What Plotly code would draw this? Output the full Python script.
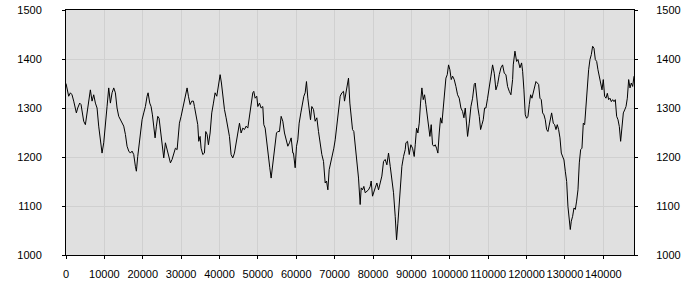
import plotly.graph_objects as go

x_vals = [
    0, 300, 700, 1140, 1570, 2010, 2700, 3050, 3570, 3920, 4180, 4610, 5050, 5480, 5920, 6350, 6790, 7220, 7660, 8090,
    8520, 8960, 9390, 9830, 10260, 10700, 11130, 11570, 12000, 12440, 12870, 13300, 13740, 14170, 14610, 15040, 15480,
    15910, 16350, 16780, 17210, 17650, 18080, 18340, 18690, 19210, 19820, 20260, 20690, 21130, 21390, 21820, 22170,
    22520, 22860, 23210, 23560, 23910, 24250, 24600, 25040, 25470, 25900, 26340, 26770, 27210, 27640, 28080, 28510,
    28950, 29380,
    29550, 29990, 30420, 30860, 31290, 31550, 31900, 32340, 32770, 33200, 33470, 33900, 34330, 34590, 34940, 35200,
    35640, 36070, 36420, 36770, 37110, 37550, 37980, 38420, 38850, 39290, 39720, 40160, 40500, 40850, 41290, 41720,
    42160, 42590, 43020, 43460, 43890, 44330, 44760, 45200, 45630, 46070, 46500, 46930, 47370, 47800, 48240, 48670,
    48930, 49280, 49710, 49980, 50410, 50850, 51280, 51540, 51890, 52320, 52760, 53100, 53450, 53800, 54150, 54490,
    54840, 55190, 55620, 56060, 56490, 56930, 57360, 57800, 58230, 58670, 59100,
    59270, 59710, 60060, 60400, 60750, 61190, 61620, 61970, 62320, 62660, 63010, 63360, 63710, 64050, 64490, 64920,
    65360, 65790, 66230, 66660, 67100, 67530, 67880, 68230, 68570, 69010, 69440, 69790, 70140, 70570, 71010, 71440,
    71880, 72310, 72570, 72920, 73270, 73610, 73960, 74310, 74660, 75000, 75350, 75790, 76220, 76650, 76920, 77260,
    77610, 77960, 78390, 78830, 79260, 79520, 79870, 80220, 80570, 81000, 81430, 81870, 82300, 82740, 83170, 83610,
    84040, 84480, 84910, 85340, 85780, 86130, 86470, 86820, 87170, 87520, 87950, 88390,
    88560, 88990, 89430, 89860, 90300, 90730, 91000, 91340, 91690, 92040, 92380, 92730, 93080, 93430, 93770, 94120,
    94470, 94820, 95160, 95510, 95860, 96210, 96550, 96900, 97250, 97600, 97950, 98290, 98640, 98990, 99340, 99680,
    100030, 100380, 100730, 101160, 101600, 102030, 102460, 102900, 103330, 103680, 104030, 104380, 104640, 105070,
    105510, 105940, 106370, 106640, 106980, 107330, 107680, 108030, 108370, 108720, 109070, 109420, 109850, 110290,
    110720, 111150, 111590, 112020, 112460, 112890, 113330, 113760, 114200, 114630, 115060, 115500, 115930, 116370,
    116540, 116980, 117410, 117760, 118110,
    118280, 118710, 118980, 119320, 119670, 120020, 120370, 120710, 121060, 121410, 121760, 122100, 122450, 122800,
    123150, 123490, 123840, 124190, 124540, 124880, 125230, 125580, 125930, 126270, 126540, 126970, 127320, 127670,
    128010, 128360, 128710, 129060, 129400, 129750, 130100, 130450, 130790, 131140, 131400, 131660, 132010, 132360,
    132710, 133050, 133400, 133750, 134100, 134440, 134790, 135140, 135490, 135830, 136180, 136530, 136880, 137220,
    137570, 137920, 138270, 138610, 138960, 139310, 139660, 140000, 140350, 140700, 141050, 141390, 141740, 142090,
    142440, 142790, 143130, 143480, 143830, 144180, 144520, 144870, 145220, 145570, 145920, 146260, 146610, 146960,
    147300, 147650, 148000,
]

y_vals = [
    1350, 1335, 1324, 1331, 1327, 1314, 1290, 1300, 1310, 1307, 1290, 1273, 1266, 1293, 1310, 1337, 1314, 1327, 1310, 1300,
    1263, 1229, 1208, 1229, 1276, 1303, 1341, 1310, 1331, 1341, 1331, 1300, 1283, 1276, 1269, 1263, 1246,
    1222, 1212, 1208, 1212, 1205, 1181, 1171, 1201, 1239, 1276, 1290, 1303, 1324, 1331, 1310, 1303,
    1286, 1256, 1239, 1263, 1283, 1279, 1256, 1239, 1198, 1229, 1215, 1205, 1188, 1195, 1205, 1218,
    1215, 1250,
    1269, 1283, 1300, 1317, 1331, 1341, 1324, 1307, 1314, 1314, 1303, 1280, 1266, 1232, 1242, 1218,
    1205, 1208, 1252, 1246, 1225, 1249, 1290, 1310, 1331, 1324, 1348, 1368, 1351, 1324, 1297, 1280,
    1259, 1242, 1205, 1198, 1208, 1229, 1252, 1269, 1249, 1259, 1256, 1263, 1259, 1283, 1303, 1331,
    1334, 1320, 1324, 1303, 1310, 1300, 1303, 1266, 1259, 1225, 1201, 1178, 1157, 1181, 1195, 1222,
    1249, 1252, 1252, 1283, 1273, 1249, 1232, 1222, 1229, 1239, 1208,
    1208, 1178, 1222, 1235, 1269, 1290, 1310, 1324, 1331, 1354, 1320, 1290, 1276, 1303, 1297, 1273,
    1280, 1252, 1225, 1205, 1191, 1147, 1151, 1133, 1174, 1188, 1201, 1218, 1235, 1269, 1303, 1324,
    1331, 1334, 1314, 1331, 1351, 1361, 1310, 1283, 1256, 1252, 1222, 1201, 1157, 1103, 1137, 1133,
    1140, 1127, 1130, 1133, 1140, 1151, 1120, 1127, 1137, 1147, 1133, 1147, 1161, 1191, 1195, 1184,
    1208, 1181, 1154, 1127, 1079, 1031, 1065, 1106, 1154, 1181, 1201, 1215,
    1229, 1232, 1205, 1225, 1218, 1201, 1225, 1259, 1249, 1269, 1310, 1341, 1317, 1327, 1307, 1283,
    1256, 1242, 1266, 1225, 1222, 1225, 1218, 1208, 1249, 1280, 1269, 1303, 1344, 1361, 1368, 1388,
    1378, 1358, 1365, 1358, 1344, 1327, 1320, 1300, 1293, 1280, 1300, 1256, 1242, 1269,
    1303, 1320, 1348, 1351, 1320, 1300, 1283, 1256, 1266, 1276, 1300, 1300, 1320, 1348,
    1365, 1388, 1371, 1337, 1348, 1368, 1382, 1388, 1371, 1368, 1344, 1334, 1327, 1358,
    1388, 1416, 1395, 1399, 1382,
    1382, 1392, 1375, 1337, 1286, 1279, 1283, 1307, 1327, 1320, 1330, 1344, 1354, 1351,
    1348, 1320, 1317, 1290, 1286, 1276, 1256, 1252, 1266, 1279, 1290, 1269, 1266, 1256,
    1266, 1256, 1239, 1208, 1201, 1194, 1171, 1150, 1099, 1069, 1052, 1069, 1079, 1096,
    1093, 1110, 1133, 1188, 1215, 1218, 1269, 1266, 1303, 1351, 1378, 1399, 1409, 1426,
    1422, 1399, 1395, 1378, 1361, 1351, 1337, 1358, 1324, 1320, 1330, 1317, 1320, 1313,
    1317, 1313, 1317, 1283, 1276, 1262, 1232, 1256, 1290, 1296, 1303, 1320, 1358, 1341,
    1351, 1344, 1365,
]

x_ticks = [0, 10000, 20000, 30000, 40000, 50000, 60000, 70000, 80000, 90000, 100000, 110000, 120000, 130000, 140000]
y_ticks = [1000, 1100, 1200, 1300, 1400, 1500]

font = dict(family="Liberation Sans", size=11, color="black")

fig = go.Figure()
fig.add_trace(go.Scatter(x=x_vals, y=y_vals, mode="lines",
                         line=dict(color="black", width=1), showlegend=False, hoverinfo="skip"))
fig.add_trace(go.Scatter(x=x_vals, y=y_vals, mode="lines", yaxis="y2", opacity=0,
                         line=dict(color="black", width=1), showlegend=False, hoverinfo="skip"))

axis_common = dict(showgrid=True, gridcolor="#d0d0d0", gridwidth=1, zeroline=False,
                   showline=True, linecolor="black", linewidth=1, automargin=False,
                   ticks="outside", ticklen=3, tickcolor="black", tickfont=font)

fig.update_layout(
    width=700, height=300,
    margin=dict(l=66, r=66, t=10, b=45, autoexpand=False),
    paper_bgcolor="white", plot_bgcolor="#e0e0e0",
    xaxis=dict(range=[0, 148000], tickvals=x_ticks, ticktext=[str(v) for v in x_ticks],
               tickangle=0, mirror=True, ticklabelstandoff=6, **axis_common),
    yaxis=dict(range=[1000, 1500], tickvals=y_ticks, ticklabelstandoff=18, **axis_common),
    yaxis2=dict(range=[1000, 1500], tickvals=y_ticks, overlaying="y", side="right",
                ticklabelstandoff=16, **{**axis_common, "showgrid": False}),
)

fig.write_html("out.html")
